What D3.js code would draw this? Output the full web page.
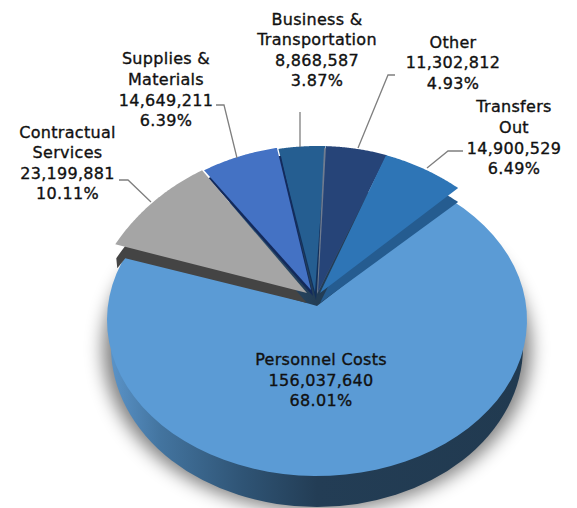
<!DOCTYPE html>
<html><head><meta charset="utf-8">
<script src="https://cdn.jsdelivr.net/npm/d3@7"></script>
<style>html,body{margin:0;background:#fff}svg{display:block}text{font-family:"DejaVu Sans",sans-serif;font-size:16px;letter-spacing:.3px;fill:#111;stroke:#111;stroke-width:.35px;text-anchor:middle;dominant-baseline:middle}</style>
</head><body><div id="c"></div>
<script>
const categories=["Personnel Costs","Contractual Services","Supplies & Materials","Business & Transportation","Other","Transfers Out"];
const amounts=[156037640,23199881,14649211,8868587,11302812,14900529];
const amountLabels=["156,037,640","23,199,881","14,649,211","8,868,587","11,302,812","14,900,529"];
const percentLabels=["68.01%","10.11%","6.39%","3.87%","4.93%","6.49%"];
const colors=["#5b9bd5","#a5a5a5","#4472c4","#255e91","#264478","#2e75b6"];
const wallColors=["#2a4a6b","#444444","#132a5c","#12305c","#6f7c90","#255c90"];
const W=577,H=508;
const disc={cx:317,cy:320,rx:210,ry:156,apex:[317,306]};
const upper={cx:316,cy:346,rx:230,ry:200,neg:.84,pos:.87};
const rad=d=>d*Math.PI/180;
const layout=[
 null,
 {apex:[307,293],rim:[-2,-1],wa:[0,10],wr:[1,14],tail:[2,24]},
 {apex:[311,290],rim:[0,-1],wa:[2,6],wr:[4,8]},
 {apex:[315,292],rim:[1.5,0],wa:[1,8],wr:[1,9]},
 {apex:[318,292],rim:[2,0],wa:[-1,2],wr:[-2,2]},
 {apex:[320,293],rim:[1,0],wa:[0,10],wr:[0,14]}
];
const labelPos=[[321,[360,381,401]],[67.5,[133,153,174,194]],[166,[59,80,101,121]],[317,[20,40,61,81]],[453,[43,63,84]],[514,[107,128,149,169]]];
const labelLines=[["Personnel Costs"],["Contractual","Services"],["Supplies &","Materials"],["Business &","Transportation"],["Other"],["Transfers","Out"]];
const leaders=[null,[[119,180],[128,180],[151,202]],[[216,105],[224,105],[237,158]],[[300,112],[300,147]],[[395,75],[388,75],[358,148]],[[463,151],[448,151],[427,168]]];

const svg=d3.select("#c").append("svg").attr("width",W).attr("height",H);
const defs=svg.append("defs");
defs.append("filter").attr("id","blur").attr("x","-20%").attr("y","-20%").attr("width","140%").attr("height","140%").append("feGaussianBlur").attr("stdDeviation",9);
const grad=defs.append("linearGradient").attr("id","wall");
[[0,"#5a93c8"],[.12,"#43749f"],[.32,"#2f5475"],[.5,"#233d55"],[1,"#213a50"]].forEach(s=>grad.append("stop").attr("offset",s[0]).attr("stop-color",s[1]));

const pie=d3.pie().sort(null).value(d=>d).startAngle(rad(43.5)).endAngle(rad(403.5));
const arcs=pie(amounts);
const line=d3.line();
const discPoint=a=>[disc.cx+disc.rx*Math.sin(a),disc.cy-disc.ry*Math.cos(a)];
const upperPoint=a=>{
  const n=Math.atan2(Math.sin(a),Math.cos(a));
  const t=n*(n<0?upper.neg:upper.pos);
  return [upper.cx+upper.rx*Math.sin(t),upper.cy-upper.ry*Math.cos(t)];
};
const sample=(fn,s,e)=>d3.range(0,61).map(i=>fn(d3.interpolateNumber(s,e)(i/60)));

const side={cx:317,cy:347,rx:206,ry:160};
svg.append("ellipse").attr("cx",side.cx).attr("cy",side.cy+2).attr("rx",side.rx+8).attr("ry",side.ry+2).attr("fill","#000").attr("opacity",.5).attr("filter","url(#blur)");
svg.append("rect").attr("x",0).attr("y",0).attr("width",W).attr("height",240).attr("fill","#fff");
svg.append("ellipse").attr("cx",side.cx).attr("cy",side.cy).attr("rx",side.rx).attr("ry",side.ry).attr("fill","url(#wall)");

// large slice, tucked beneath the neighbouring walls
const p0=arcs[0];
svg.append("path").attr("d",line([disc.apex,...sample(discPoint,p0.startAngle-rad(3.5),p0.endAngle+rad(7))])+"Z").attr("fill",colors[0]);

[3,4,5,2,1].forEach(i=>{
  const a=arcs[i],L=layout[i];
  const rim=sample(upperPoint,a.startAngle,a.endAngle).map(p=>[p[0]+L.rim[0],p[1]+L.rim[1]]);
  const wall=[[L.apex[0]+L.wa[0],L.apex[1]+L.wa[1]]];
  if(L.tail)wall.push([rim[0][0]+L.tail[0]+8,rim[0][1]+L.tail[1]-10],[rim[0][0]+L.tail[0],rim[0][1]+L.tail[1]]);
  wall.push(...rim.map(p=>[p[0]+L.wr[0],p[1]+L.wr[1]]));
  svg.append("path").attr("d",line(wall)+"Z").attr("fill",wallColors[i]);
  svg.append("path").attr("d",line([L.apex,...rim])+"Z").attr("fill",colors[i]);
});

const ll=svg.append("g").attr("fill","none").attr("stroke","#7f7f7f").attr("stroke-width",1.3);
leaders.forEach(l=>{if(l)ll.append("path").attr("d",line(l));});

categories.forEach((c,i)=>{
  const lines=[...labelLines[i],amountLabels[i],percentLabels[i]];
  const [x,ys]=labelPos[i];
  lines.forEach((t,j)=>svg.append("text").attr("x",x).attr("y",ys[j]).text(t));
});
</script></body></html>
